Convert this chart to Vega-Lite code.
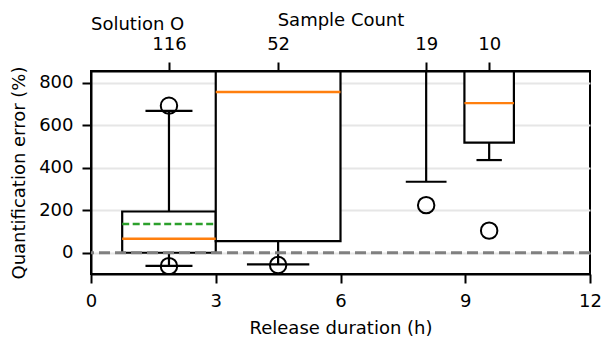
{
  "$schema": "https://vega.github.io/schema/vega-lite/v6.json",
  "width": 499,
  "height": 203,
  "autosize": {"type": "none"},
  "padding": {"left": 91, "top": 71, "right": 12, "bottom": 64},
  "title": {"text": "Solution O", "anchor": "start", "frame": "group", "offset": -23, "fontSize": 18, "fontWeight": "normal", "font": "DejaVu Sans", "color": "black"},
  "datasets": {
    "boxes": [
      {"count": 116, "center": 1.875, "x1": 0.75, "x2": 3, "capLo": 1.31, "capHi": 2.44, "lo": -62, "q1": 0, "median": 66, "mean": 135, "q3": 194, "hi": 667},
      {"count": 52, "center": 4.5, "x1": 3, "x2": 6, "capLo": 3.75, "capHi": 5.25, "lo": -55, "q1": 55, "median": 756, "mean": null, "q3": 1000, "hi": null},
      {"count": 19, "center": 8.06, "x1": 7.08, "x2": 9.04, "capLo": 7.57, "capHi": 8.55, "lo": 334, "q1": 900, "median": 1050, "mean": null, "q3": 1200, "hi": null},
      {"count": 10, "center": 9.575, "x1": 8.98, "x2": 10.17, "capLo": 9.27, "capHi": 9.88, "lo": 436, "q1": 518, "median": 704, "mean": null, "q3": 1000, "hi": null}
    ],
    "outliers": [
      {"x": 1.875, "value": 692},
      {"x": 1.875, "value": -63},
      {"x": 4.5, "value": -58},
      {"x": 8.06, "value": 224},
      {"x": 9.575, "value": 104}
    ],
    "reference": [{"level": 0}]
  },
  "resolve": {"axis": {"x": "independent"}},
  "layer": [
    {
      "data": {"name": "boxes"},
      "transform": [{"filter": "isValid(datum.hi)"}],
      "mark": {"type": "rule", "color": "black", "strokeWidth": 2.2, "clip": true},
      "encoding": {
        "x": {"field": "center", "type": "quantitative", "scale": {"domain": [0, 12], "nice": false, "zero": false}, "axis": null},
        "y": {"field": "q3", "type": "quantitative", "scale": {"domain": [-100, 855], "nice": false, "zero": false}},
        "y2": {"field": "hi"}
      }
    },
    {
      "data": {"name": "boxes"},
      "mark": {"type": "rule", "color": "black", "strokeWidth": 2.2, "clip": true},
      "encoding": {
        "x": {"field": "center", "type": "quantitative", "axis": {"orient": "top", "values": [1.875, 4.5, 8.06, 9.575], "labelExpr": "datum.value < 3 ? '116' : datum.value < 6 ? '52' : datum.value < 9 ? '19' : '10'", "title": "Sample Count", "titlePadding": 6, "grid": false, "zindex": 1, "labelFlush": false, "labelOverlap": false}},
        "y": {"field": "lo", "type": "quantitative"},
        "y2": {"field": "q1"}
      }
    },
    {
      "data": {"name": "boxes"},
      "mark": {"type": "rect", "fill": "white", "stroke": "black", "strokeWidth": 2.2, "clip": true},
      "encoding": {
        "x": {"field": "x1", "type": "quantitative", "axis": {"orient": "bottom", "values": [0, 3, 6, 9, 12], "title": "Release duration (h)", "titlePadding": 9, "grid": false, "zindex": 1, "labelFlush": false}},
        "x2": {"field": "x2"},
        "y": {"field": "q1", "type": "quantitative", "axis": {"values": [0, 200, 400, 600, 800], "title": "Quantification error (%)", "titlePadding": 10, "grid": true, "gridColor": "#e6e6e6", "gridWidth": 1.8}},
        "y2": {"field": "q3"}
      }
    },
    {
      "data": {"name": "boxes"},
      "mark": {"type": "rule", "color": "black", "strokeWidth": 2.2, "clip": true},
      "encoding": {
        "x": {"field": "capLo", "type": "quantitative", "axis": null},
        "x2": {"field": "capHi"},
        "y": {"field": "lo", "type": "quantitative"}
      }
    },
    {
      "data": {"name": "boxes"},
      "transform": [{"filter": "isValid(datum.hi)"}],
      "mark": {"type": "rule", "color": "black", "strokeWidth": 2.2, "clip": true},
      "encoding": {
        "x": {"field": "capLo", "type": "quantitative", "axis": null},
        "x2": {"field": "capHi"},
        "y": {"field": "hi", "type": "quantitative"}
      }
    },
    {
      "data": {"name": "boxes"},
      "mark": {"type": "rule", "color": "#ff7f0e", "strokeWidth": 2.4, "clip": true},
      "encoding": {
        "x": {"field": "x1", "type": "quantitative", "axis": null},
        "x2": {"field": "x2"},
        "y": {"field": "median", "type": "quantitative"}
      }
    },
    {
      "data": {"name": "boxes"},
      "transform": [{"filter": "isValid(datum.mean)"}],
      "mark": {"type": "rule", "color": "#2ca02c", "strokeWidth": 2.4, "strokeDash": [7, 3.5], "clip": true},
      "encoding": {
        "x": {"field": "x1", "type": "quantitative", "axis": null},
        "x2": {"field": "x2"},
        "y": {"field": "mean", "type": "quantitative"}
      }
    },
    {
      "data": {"name": "reference"},
      "mark": {"type": "rule", "color": "#808080", "strokeWidth": 3.2, "strokeDash": [11, 5]},
      "encoding": {
        "y": {"field": "level", "type": "quantitative"}
      }
    },
    {
      "data": {"name": "outliers"},
      "mark": {"type": "point", "shape": "circle", "size": 270, "filled": false, "stroke": "black", "strokeWidth": 2, "opacity": 1, "clip": true},
      "encoding": {
        "x": {"field": "x", "type": "quantitative", "axis": null},
        "y": {"field": "value", "type": "quantitative"}
      }
    }
  ],
  "config": {
    "font": "DejaVu Sans",
    "view": {"stroke": "black", "strokeWidth": 2},
    "axis": {
      "labelFont": "DejaVu Sans",
      "titleFont": "DejaVu Sans",
      "labelFontSize": 18,
      "titleFontSize": 18,
      "titleFontWeight": "normal",
      "labelColor": "black",
      "titleColor": "black",
      "tickColor": "black",
      "tickWidth": 2,
      "tickSize": 9,
      "labelPadding": 9,
      "domainColor": "black",
      "domainWidth": 2
    }
  }
}
